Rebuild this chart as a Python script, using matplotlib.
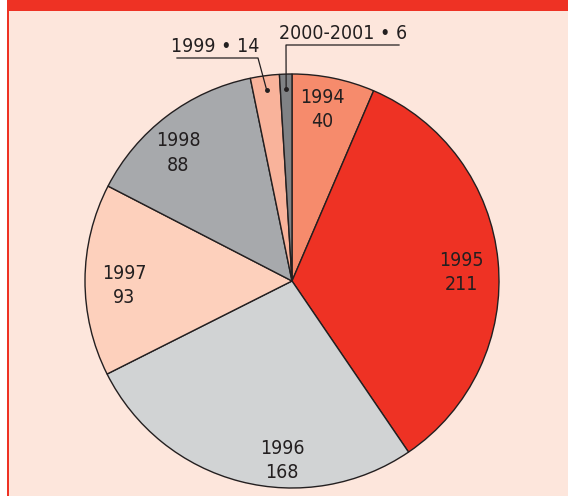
import numpy as np
import matplotlib
matplotlib.use("Agg")
import matplotlib.pyplot as plt
from matplotlib.patches import Rectangle

# data
years = ["1994", "1995", "1996", "1997", "1998", "1999", "2000-2001"]
counts = [40, 211, 168, 93, 88, 14, 6]
colors = ["#F68B6C", "#EE3224", "#D1D3D4", "#FDD0BC", "#A7A9AC", "#F9B39B", "#808285"]

W, H = 568, 496
ink = "#231F20"
red = "#EE3224"
bg = "#FDE6DC"

plt.rcParams['font.family'] = ['DejaVu Sans']
plt.rcParams['font.stretch'] = 'condensed'

fig = plt.figure(figsize=(W / 100, H / 100), dpi=100, facecolor="white")
ax = fig.add_axes([0, 0, 1, 1])

# frame: peach panel, red top band and red left rule
ax.add_patch(Rectangle((7, 0), W - 7, H, facecolor=bg, edgecolor="none", zorder=0))
ax.add_patch(Rectangle((7, H - 11), W - 7, 11, facecolor=red, edgecolor="none", zorder=0))
ax.add_patch(Rectangle((6.5, 0), 2.5, H, facecolor=red, edgecolor="none", zorder=0))

cx, cy, r = 292, H - 281, 207
wedges, _ = ax.pie(counts, colors=colors, startangle=90, counterclock=False,
                   center=(cx, cy), radius=r,
                   wedgeprops=dict(edgecolor=ink, linewidth=1.0))

fs = 14
# hand nudges (px) applied to the label spot inside each big slice
nudges = [(-4, 3), (-2, -8), (33, -13), (4, -5), (-10, -9)]
for w, yr, n, (ox, oy) in zip(wedges[:5], years[:5], counts[:5], nudges):
    mid = np.deg2rad((w.theta1 + w.theta2) / 2)
    x = cx + 0.83 * r * np.cos(mid) + ox
    y = cy + 0.83 * r * np.sin(mid) + oy
    ax.text(x, y, f"{yr}\n{n}", ha="center", va="center", fontsize=fs,
            color=ink, linespacing=1.35, fontweight="medium")

# outside labels with leader lines for the two small slices
# (elbow point, end of horizontal rule, text baseline position)
leaders = [
    ((258, H - 58), (177, H - 58), (215, H - 52)),
    ((286, H - 45), (399, H - 45), (343, H - 39)),
]
for w, yr, n, (elbow, end, tpos) in zip(wedges[5:], years[5:], counts[5:], leaders):
    mid = np.deg2rad((w.theta1 + w.theta2) / 2)
    dx = cx + 0.93 * r * np.cos(mid)
    dy = cy + 0.93 * r * np.sin(mid)
    ax.plot([dx, elbow[0], end[0]], [dy, elbow[1], end[1]], color=ink, lw=0.9)
    ax.plot(dx, dy, "o", color=ink, markersize=2.5)
    ax.text(tpos[0], tpos[1], f"{yr} \u2022 {n}", ha="center", va="baseline",
            fontsize=fs, color=ink, fontweight="medium")

ax.set_xlim(0, W)
ax.set_ylim(0, H)
ax.set_aspect("equal")
ax.axis("off")

fig.savefig("out.png", dpi=100, facecolor="white")
